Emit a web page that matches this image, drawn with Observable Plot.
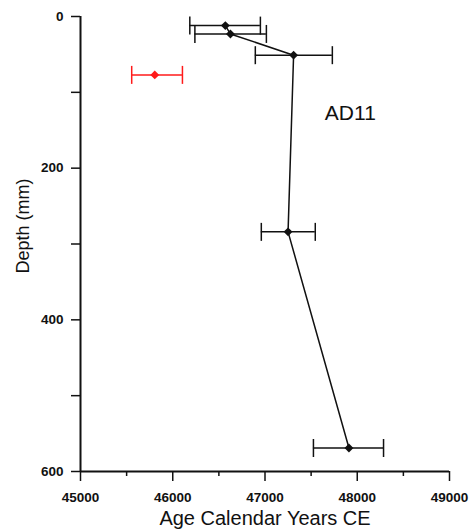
<!DOCTYPE html>
<html>
<head>
<meta charset="utf-8">
<script src="https://cdn.jsdelivr.net/npm/d3@7"></script>
<script src="https://cdn.jsdelivr.net/npm/@observablehq/plot@0.6"></script>
<style>
  html, body { margin: 0; padding: 0; background: #fff; }
  #chart svg { display: block; }
</style>
</head>
<body>
<div id="chart"></div>
<script>
// Data
const ages      = [46570, 46625, 47310, 47250, 47910];
const depths    = [12, 23, 51, 284, 569];
const errLow    = [46185, 46240, 46895, 46960, 47525];
const errHigh   = [46950, 47015, 47730, 47545, 48285];

const outlierAge   = [45805];
const outlierDepth = [77];
const outlierLow   = [45555];
const outlierHigh  = [46105];

const xMajorTicks = [45000, 46000, 47000, 48000, 49000];
const xMinorTicks = [45500, 46500, 47500, 48500];
const yMajorTicks = [0, 200, 400, 600];
const yMinorTicks = [100, 300, 500];

const seriesLabel = ["AD11"];
const labelAge = [47925];
const labelDepth = [128];

const xTitle = "Age Calendar Years CE";
const yTitle = "Depth (mm)";

const main = ages.map((a, i) => ({age: a, depth: depths[i], lo: errLow[i], hi: errHigh[i]}));
const outl = outlierAge.map((a, i) => ({age: a, depth: outlierDepth[i], lo: outlierLow[i], hi: outlierHigh[i]}));
const ann = seriesLabel.map((t, i) => ({text: t, age: labelAge[i], depth: labelDepth[i]}));

const cap = { draw(ctx) { ctx.moveTo(0, -9); ctx.lineTo(0, 9); } };
const ink = "#111";
const red = "#ff1a1a";

const chart = Plot.plot({
  width: 471,
  height: 532,
  marginLeft: 80,
  marginRight: 22,
  marginTop: 16,
  marginBottom: 61,
  style: {fontFamily: "'Liberation Sans', Arial, sans-serif", fontSize: "13.5px", fontWeight: "bold", color: ink, background: "#fff"},
  x: {domain: [45000, 49000]},
  y: {domain: [0, 600], reverse: true},
  marks: [
    // axis lines
    Plot.ruleX([45000], {stroke: ink, strokeWidth: 2}),
    Plot.ruleY([600], {stroke: ink, strokeWidth: 2}),
    Plot.axisX({ticks: xMajorTicks, tickSize: 10, tickPadding: 11, tickFormat: d3.format("d"), fontSize: 13.5, stroke: ink, strokeWidth: 1.5, label: null}),
    Plot.axisX({ticks: xMinorTicks, tickSize: 5, text: null, stroke: ink, strokeWidth: 1.5, label: null}),
    Plot.axisY({ticks: yMajorTicks, tickSize: 9, tickPadding: 8, tickFormat: d3.format("d"), fontSize: 13.5, stroke: ink, strokeWidth: 1.5, label: null}),
    Plot.axisY({ticks: yMinorTicks, tickSize: 9, text: null, stroke: ink, strokeWidth: 1.5, label: null}),
    // titles
    Plot.text([xTitle], {frameAnchor: "bottom", lineAnchor: "middle", textAnchor: "middle", dy: 47, fontSize: 20, fontWeight: "normal", fill: ink}),
    Plot.text([yTitle], {frameAnchor: "left", textAnchor: "middle", lineAnchor: "middle", rotate: -90, dx: -57, dy: -18, fontSize: 18, fontWeight: "normal", fill: ink}),
    // main series
    Plot.ruleY(main, {y: "depth", x1: "lo", x2: "hi", stroke: ink, strokeWidth: 1.5}),
    Plot.dot(main, {x: "lo", y: "depth", symbol: cap, stroke: ink, strokeWidth: 1.5}),
    Plot.dot(main, {x: "hi", y: "depth", symbol: cap, stroke: ink, strokeWidth: 1.5}),
    Plot.line(main, {x: "age", y: "depth", stroke: ink, strokeWidth: 1.5}),
    Plot.dot(main, {x: "age", y: "depth", symbol: "diamond2", r: 4, fill: ink}),
    // outlier
    Plot.ruleY(outl, {y: "depth", x1: "lo", x2: "hi", stroke: red, strokeWidth: 1.5}),
    Plot.dot(outl, {x: "lo", y: "depth", symbol: cap, stroke: red, strokeWidth: 1.5}),
    Plot.dot(outl, {x: "hi", y: "depth", symbol: cap, stroke: red, strokeWidth: 1.5}),
    Plot.dot(outl, {x: "age", y: "depth", symbol: "diamond2", r: 4, fill: red}),
    // annotation
    Plot.text(ann, {x: "age", y: "depth", text: "text", fontSize: 21, fontWeight: "normal", fill: ink})
  ]
});
document.getElementById("chart").appendChild(chart);
</script>
</body>
</html>
